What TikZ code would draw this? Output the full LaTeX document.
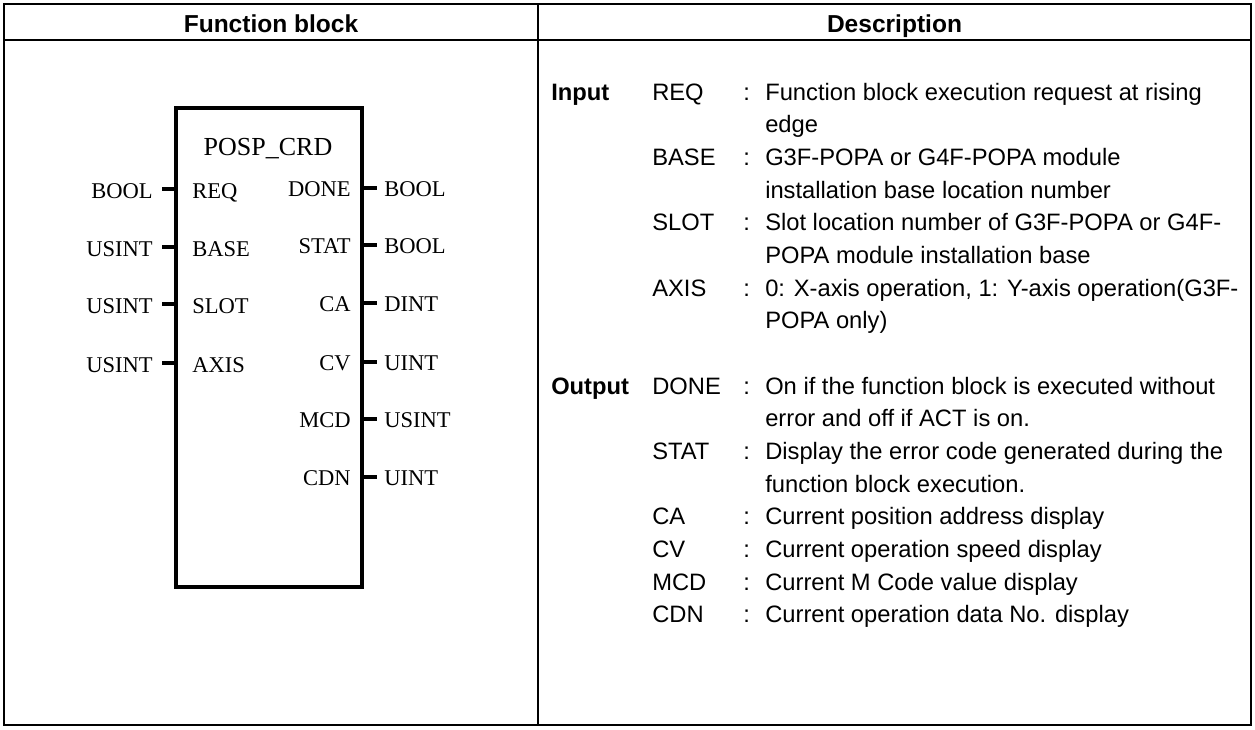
\documentclass[tikz,border=0pt]{standalone}
\usepackage{fontspec}
\setmainfont{Liberation Serif}
\newfontfamily\descfont{Liberation Sans}
\begin{document}
\begin{tikzpicture}[x=0.75pt, y=-0.75pt,
  frame/.style={line width=1.5pt},
  blockbox/.style={draw, line width=3pt, inner sep=0pt, outer sep=0pt,
    minimum width=139.5pt, minimum height=359.25pt},
  pin/.style={line width=2.6pt},
  fbtext/.style={font=\fontsize{16.9}{20}\selectfont, inner sep=0pt},
  fbtitle/.style={font=\fontsize{19.5}{22}\selectfont, inner sep=0pt, anchor=base},
  head/.style={font=\descfont\bfseries\fontsize{18.4}{22}\selectfont, inner sep=0pt, anchor=base},
  desc/.style={font=\descfont\fontsize{17.8}{21}\selectfont, inner sep=0pt, anchor=base west},
  group/.style={desc, font=\descfont\bfseries\fontsize{17.8}{21}\selectfont}]
\useasboundingbox (0,0) rectangle (1255,729);

% table frame
\draw[frame] (4,4) rectangle (1251,725);
\draw[frame] (4,40) -- (1251,40);
\draw[frame] (538,4) -- (538,725);

% headings
\node[head] (hfb) at (271,32) {Function block};
\node[head] (hdesc) at (894.5,32) {Description};

% function block body
\node[blockbox] (fb) at (269,347.5) {};
\node[fbtitle] (fbname) at (268,155) {POSP\_CRD};

% inputs
\foreach \p/\t/\y in {REQ/BOOL/189, BASE/USINT/247, SLOT/USINT/304, AXIS/USINT/363} {
  \coordinate (in\p) at (176,\y);
  \coordinate (inend\p) at (162,\y);
  \draw[pin] (in\p) -- (inend\p);
  \node[fbtext, anchor=base east] (intype\p) at (153,\y+9) {\t};
  \node[fbtext, anchor=base west] (inname\p) at (192,\y+9) {\p};
}

% outputs
\foreach \p/\t/\y in {DONE/BOOL/188, STAT/BOOL/245, CA/DINT/303, CV/UINT/362, MCD/USINT/419, CDN/UINT/477} {
  \coordinate (out\p) at (362,\y);
  \coordinate (outend\p) at (377,\y);
  \draw[pin] (out\p) -- (outend\p);
  \node[fbtext, anchor=base east] (outname\p) at (351,\y+8.5) {\p};
  \node[fbtext, anchor=base west] (outtype\p) at (384,\y+8.5) {\t};
}

% description: inputs
\node[group] (gin) at (551,100) {Input};
\node[desc] (kREQ) at (652,100) {REQ};
\node[desc] (cREQ) at (743,100) {:};
\node[desc] (dREQa) at (765,100) {Function block execution request at rising};
\node[desc] (dREQb) at (765,132.7) {edge};
\node[desc] (kBASE) at (652,165.3) {BASE};
\node[desc] (cBASE) at (743,165.3) {:};
\node[desc] (dBASEa) at (765,165.3) {G3F-POPA or G4F-POPA module};
\node[desc] (dBASEb) at (765,198) {installation base location number};
\node[desc] (kSLOT) at (652,230.7) {SLOT};
\node[desc] (cSLOT) at (743,230.7) {:};
\node[desc] (dSLOTa) at (765,230.7) {Slot location number of G3F-POPA or G4F-};
\node[desc] (dSLOTb) at (765,263.3) {POPA module installation base};
\node[desc] (kAXIS) at (652,296) {AXIS};
\node[desc] (cAXIS) at (743,296) {:};
\node[desc] (dAXISa) at (765,296) {0: X-axis operation, 1: Y-axis operation(G3F-};
\node[desc] (dAXISb) at (765,328.7) {POPA only)};

% description: outputs
\node[group] (gout) at (551,394) {Output};
\node[desc] (kDONE) at (652,394) {DONE};
\node[desc] (cDONE) at (743,394) {:};
\node[desc] (dDONEa) at (765,394) {On if the function block is executed without};
\node[desc] (dDONEb) at (765,426.7) {error and off if ACT is on.};
\node[desc] (kSTAT) at (652,459.3) {STAT};
\node[desc] (cSTAT) at (743,459.3) {:};
\node[desc] (dSTATa) at (765,459.3) {Display the error code generated during the};
\node[desc] (dSTATb) at (765,492) {function block execution.};
\node[desc] (kCA) at (652,524.7) {CA};
\node[desc] (cCA) at (743,524.7) {:};
\node[desc] (dCA) at (765,524.7) {Current position address display};
\node[desc] (kCV) at (652,557.3) {CV};
\node[desc] (cCV) at (743,557.3) {:};
\node[desc] (dCV) at (765,557.3) {Current operation speed display};
\node[desc] (kMCD) at (652,590) {MCD};
\node[desc] (cMCD) at (743,590) {:};
\node[desc] (dMCD) at (765,590) {Current M Code value display};
\node[desc] (kCDN) at (652,622.7) {CDN};
\node[desc] (cCDN) at (743,622.7) {:};
\node[desc] (dCDN) at (765,622.7) {Current operation data No. display};
\end{tikzpicture}
\end{document}
